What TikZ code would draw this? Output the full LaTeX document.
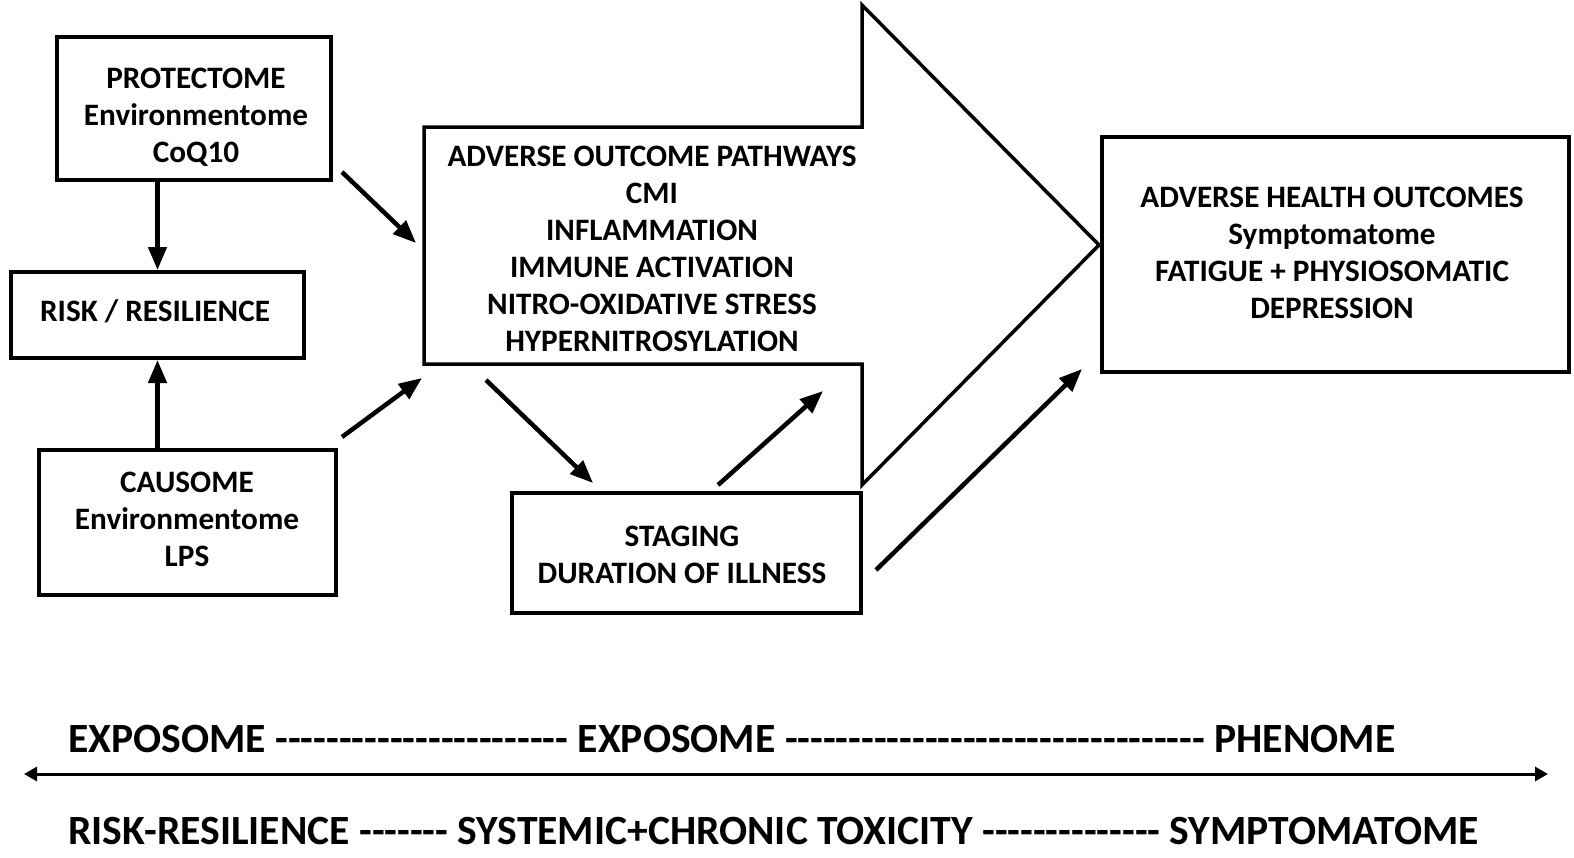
\documentclass[tikz,border=0pt]{standalone}
\usepackage{fontspec}
\setmainfont{Carlito}
\usetikzlibrary{arrows.meta}
\newcount\hcnt
\newcommand\hy[1]{\hcnt=0 \loop\ifnum\hcnt<#1 -\kern0pt\advance\hcnt by 1\relax\repeat}
\begin{document}
\begin{tikzpicture}[x=1pt,y=-1pt,
  box/.style={draw,line width=4pt,inner sep=0pt},
  txt/.style={inner sep=0pt,align=center,font=\fontsize{31.2}{37}\selectfont\bfseries},
  axtxt/.style={inner sep=0pt,anchor=west,font=\fontsize{41.6}{48}\selectfont\bfseries},
  conn/.style={line width=4.5pt,-{Triangle[length=23pt,width=18pt]}},
  outline/.style={line width=3.5pt,line join=miter}]
\useasboundingbox (0,0) rectangle (1574,857);
\fill[white] (0,0) rectangle (1574,857);

% boxes
\node[box,minimum width=274pt,minimum height=143pt] (protbox) at (194,108.5) {};
\node[txt] (prot) at (196,117.5) {PROTECTOME\\Environmentome\\CoQ10};
\node[box,minimum width=293pt,minimum height=86pt] (riskbox) at (157.5,315) {};
\node[txt] (risk) at (155,311) {RISK / RESILIENCE};
\node[box,minimum width=297pt,minimum height=145pt] (causbox) at (187.5,522.5) {};
\node[txt] (caus) at (187,519.5) {CAUSOME\\Environmentome\\LPS};
\node[box,minimum width=349pt,minimum height=120pt] (stagbox) at (686.5,553) {};
\node[txt] (stag) at (682,554.5) {STAGING\\DURATION OF ILLNESS};
\node[box,minimum width=467pt,minimum height=235pt] (ahobox) at (1335,254.5) {};
\node[txt] (aho) at (1332,252.5)
  {ADVERSE HEALTH OUTCOMES\\Symptomatome\\FATIGUE + PHYSIOSOMATIC\\DEPRESSION};

% big arrow
\coordinate (a1) at (424,127);
\coordinate (a2) at (862,127);
\coordinate (a3) at (862,5);
\coordinate (tip) at (1099,245);
\coordinate (a5) at (862,485);
\coordinate (a6) at (862,364);
\coordinate (a7) at (424,364);
\draw[outline] (a1) -- (a2) -- (a3) -- (tip) -- (a5) -- (a6) -- (a7) -- cycle;
\node[txt] (aop) at (652,249)
  {ADVERSE OUTCOME PATHWAYS\\CMI\\INFLAMMATION\\IMMUNE ACTIVATION\\NITRO-OXIDATIVE STRESS\\HYPERNITROSYLATION};

% connectors
\draw[conn] (protbox.south -| riskbox.north) -- (riskbox.north);
\draw[conn] (causbox.north -| riskbox.south) -- (riskbox.south);
\coordinate (c1s) at (342,172); \coordinate (c1e) at (416,243);
\coordinate (c2s) at (342,437); \coordinate (c2e) at (422,378);
\coordinate (c3s) at (486,380); \coordinate (c3e) at (593,483);
\coordinate (c4s) at (718,485); \coordinate (c4e) at (823,391);
\coordinate (c5s) at (876,570); \coordinate (c5e) at (1082,369);
\draw[conn] (c1s) -- (c1e);
\draw[conn] (c2s) -- (c2e);
\draw[conn] (c3s) -- (c3e);
\draw[conn] (c4s) -- (c4e);
\draw[conn] (c5s) -- (c5e);

% axis
\coordinate (axL) at (24,774);
\coordinate (axR) at (1548,774);
\draw[line width=3pt,{Triangle[length=13pt,width=14pt]}-{Triangle[length=13pt,width=14pt]}] (axL) -- (axR);
\node[axtxt] (row1) at (68,739) {EXPOSOME \hy{23} EXPOSOME \hy{33} PHENOME};
\node[axtxt] (row2) at (68,831) {RISK-RESILIENCE \hy{7} SYSTEMIC+CHRONIC TOXICITY \hy{14} SYMPTOMATOME};
\end{tikzpicture}
\end{document}
